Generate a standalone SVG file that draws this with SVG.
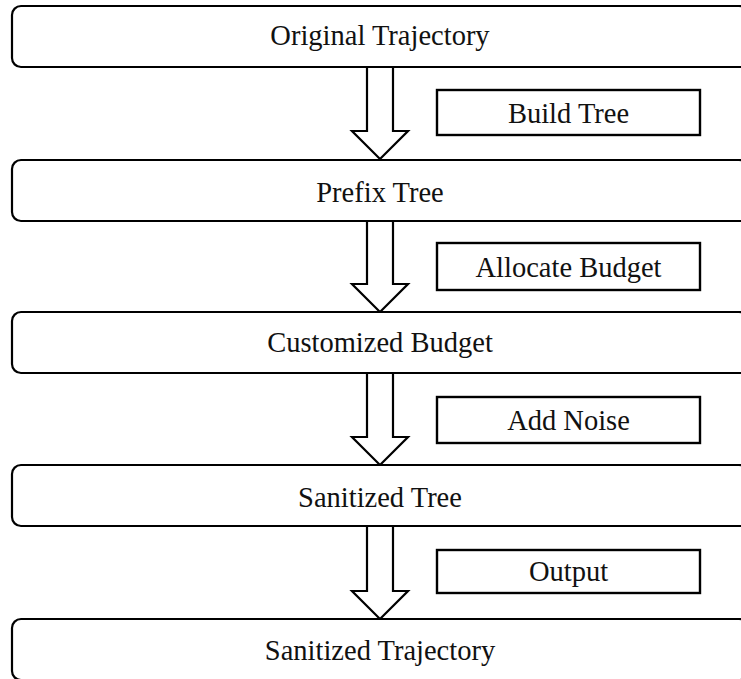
<svg xmlns="http://www.w3.org/2000/svg" width="741" height="679" viewBox="0 0 741 679">
  <style>
    .stage { fill: #ffffff; stroke: #000000; stroke-width: 2.2; }
    .step { fill: #ffffff; stroke: #000000; stroke-width: 2.4; }
    .flow { fill: #ffffff; stroke: #000000; stroke-width: 2.2; stroke-linejoin: miter; }
    text { font-family: "Liberation Serif", "Times New Roman", serif; font-size: 28.5px; fill: #111111; text-anchor: middle; }
  </style>
  <rect width="741" height="679" fill="#ffffff"/>

  <!-- hollow block arrows between the stages -->
  <g id="connectors">
    <path class="flow" d="M 367 67 L 367 131 L 352 131 L 380 159 L 408 131 L 393 131 L 393 67"/>
    <path class="flow" d="M 367 221 L 367 284 L 352 284 L 380 312 L 408 284 L 393 284 L 393 221"/>
    <path class="flow" d="M 367 373 L 367 437 L 352 437 L 380 465 L 408 437 L 393 437 L 393 373"/>
    <path class="flow" d="M 367 526 L 367 591 L 352 591 L 380 619 L 408 591 L 393 591 L 393 526"/>
  </g>

  <!-- stages -->
  <g id="original-trajectory">
    <rect class="stage" x="12" y="6" width="736" height="61" rx="9"/>
    <text x="380" y="45">Original Trajectory</text>
  </g>
  <g id="prefix-tree">
    <rect class="stage" x="12" y="160" width="736" height="61" rx="9"/>
    <text x="380" y="202">Prefix Tree</text>
  </g>
  <g id="customized-budget">
    <rect class="stage" x="12" y="312" width="736" height="61" rx="9"/>
    <text x="380" y="352">Customized Budget</text>
  </g>
  <g id="sanitized-tree">
    <rect class="stage" x="12" y="465" width="736" height="61" rx="9"/>
    <text x="380" y="507">Sanitized Tree</text>
  </g>
  <g id="sanitized-trajectory">
    <rect class="stage" x="12" y="619" width="736" height="61" rx="9"/>
    <text x="380" y="660">Sanitized Trajectory</text>
  </g>

  <!-- operations -->
  <g id="build-tree">
    <rect class="step" x="437" y="90" width="263" height="45"/>
    <text x="568.5" y="123">Build Tree</text>
  </g>
  <g id="allocate-budget">
    <rect class="step" x="437" y="243" width="263" height="47"/>
    <text x="568.5" y="277">Allocate Budget</text>
  </g>
  <g id="add-noise">
    <rect class="step" x="437" y="397" width="263" height="46"/>
    <text x="568.5" y="430">Add Noise</text>
  </g>
  <g id="output">
    <rect class="step" x="437" y="550" width="263" height="43"/>
    <text x="568.5" y="581">Output</text>
  </g>
</svg>
